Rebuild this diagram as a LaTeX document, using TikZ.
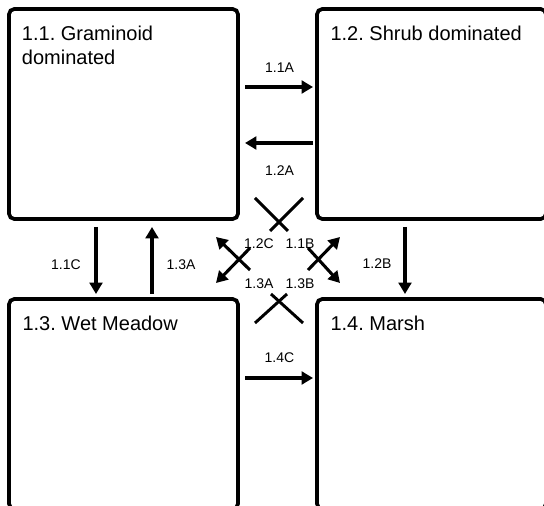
\documentclass[tikz,border=0pt]{standalone}
\usepackage{fontspec}
\setmainfont{Liberation Sans}
\usetikzlibrary{arrows.meta,calc}
\frenchspacing

\tikzset{
  statebox/.style={draw, line width=2.8pt, rounded corners=4pt,
    minimum width=171.75pt, minimum height=157.5pt, inner sep=0pt, outer sep=0pt},
  title/.style={anchor=base west, align=left, inner sep=0pt,
    font=\fontsize{15}{18}\selectfont},
  lbl/.style={inner sep=0pt, font=\fontsize{10.5}{12}\selectfont},
  trans/.style={line width=2.3pt, -{Triangle[length=8.5pt,width=9.5pt]}},
  cross/.style={line width=2.2pt}
}

\begin{document}
\begin{tikzpicture}[x={(0.75pt,0)}, y={(0,-0.75pt)}]
  \useasboundingbox (0,0) rectangle (544,506);
  \clip (0,0) rectangle (544,506);
  % the four states
  \foreach \n/\x/\y in {gram/123.5/114, shrub/431.5/114, wet/123.5/404, marsh/431.5/404}
    \node[statebox] (\n) at (\x,\y) {};
  \node[title] (gramt) at ($(gram.north west)+(12.7,56)$) {1.1. Graminoid\\dominated};
  \node[title] (shrubt) at ($(shrub.north west)+(13.3,31.5)$) {1.2. Shrub dominated};
  \node[title] (wett) at ($(wet.north west)+(13.3,31.5)$) {1.3. Wet Meadow};
  \node[title] (marsht) at ($(marsh.north west)+(13.3,31.5)$) {1.4. Marsh};
  % transitions between neighbours
  \draw[trans] ($(gram.north east)+(7,78)$) -- ($(shrub.north west)+(-4,78)$);
  \draw[trans] ($(shrub.north west)+(-4,134)$) -- ($(gram.north east)+(7,134)$);
  \draw[trans] ($(gram.south west)+(87,8)$) -- ($(wet.north west)+(87,-5)$);
  \draw[trans] ($(wet.north west)+(143,-5)$) -- ($(gram.south west)+(143,8)$);
  \draw[trans] ($(shrub.south west)+(88,8)$) -- ($(marsh.north west)+(88,-5)$);
  \draw[trans] ($(wet.north east)+(7,79)$) -- ($(marsh.north west)+(-4,79)$);
  \node[lbl] (l11a) at (279.5,68) {1.1A};
  \node[lbl] (l12a) at (279.5,170.5) {1.2A};
  \node[lbl] (l11c) at (66,264.5) {1.1C};
  \node[lbl] (l13a) at (181,264.5) {1.3A};
  \node[lbl] (l12b) at (377,264) {1.2B};
  \node[lbl] (l14c) at (279.5,358) {1.4C};
  % diagonal transitions in the middle
  \coordinate (d1) at (250,270); \coordinate (d1t) at (216,237);
  \coordinate (d2) at (250,248); \coordinate (d2t) at (216,283);
  \coordinate (d3) at (308,270); \coordinate (d3t) at (340,237);
  \coordinate (d4) at (308,248); \coordinate (d4t) at (340,283);
  \draw[trans] (d1) -- (d1t);
  \draw[trans] (d2) -- (d2t);
  \draw[trans] (d3) -- (d3t);
  \draw[trans] (d4) -- (d4t);
  \draw[cross] (255,198) -- (288,231);
  \draw[cross] (303,198) -- (270,231);
  \draw[cross] (255,323) -- (287,294);
  \draw[cross] (303,323) -- (271,294);
  \node[lbl] (l12c) at (259,244) {1.2C};
  \node[lbl] (l11b) at (300,244) {1.1B};
  \node[lbl] (l13am) at (259,284) {1.3A};
  \node[lbl] (l13b) at (300,284) {1.3B};
\end{tikzpicture}
\end{document}
